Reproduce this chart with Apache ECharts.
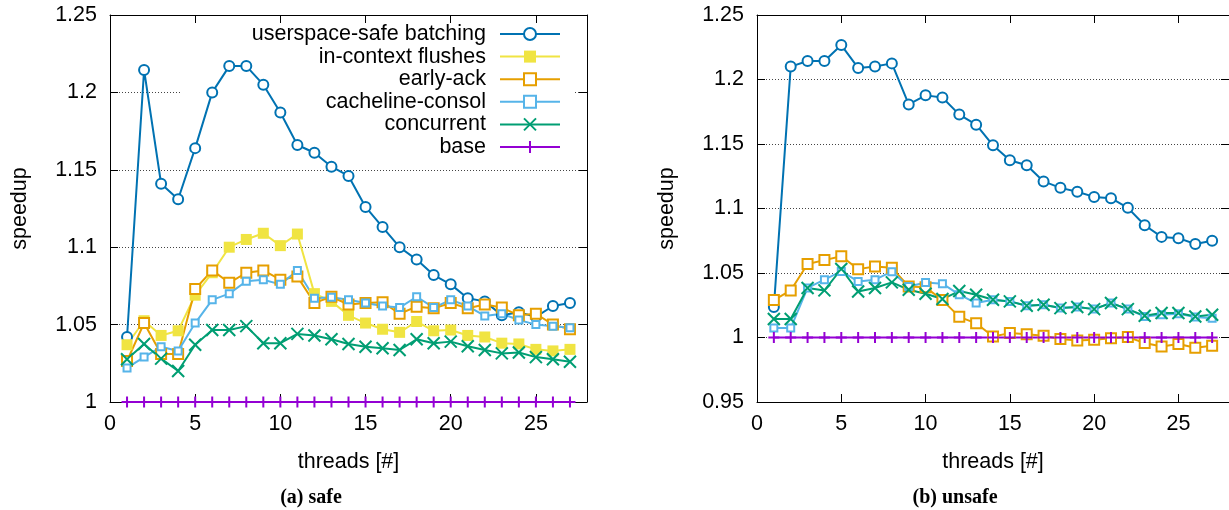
<!DOCTYPE html>
<html><head><meta charset="utf-8">
<script src="https://cdn.jsdelivr.net/npm/echarts@6/dist/echarts.min.js"></script>
<style>html,body{margin:0;padding:0;background:#fff}#c{width:1229px;height:510px}</style>
</head><body><div id="c"></div>
<script>
// ---------- data ----------
const threads = [1,2,3,4,5,6,7,8,9,10,11,12,13,14,15,16,17,18,19,20,21,22,23,24,25,26,27];
const seriesNames = ['userspace-safe batching','in-context flushes','early-ack','cacheline-consol','concurrent','base'];
const xTicks = [0,5,10,15,20,25];
const safeYTicks = [1,1.05,1.1,1.15,1.2,1.25];
const unsafeYTicks = [0.95,1,1.05,1.1,1.15,1.2,1.25];
const captions = ['(a) safe','(b) unsafe'];

// (a) safe
const safeBatching   = [1.042,1.2145,1.141,1.131,1.164,1.200,1.217,1.217,1.205,1.187,1.166,1.161,1.152,1.146,1.126,1.113,1.100,1.092,1.082,1.076,1.067,1.065,1.056,1.058,1.055,1.062,1.064];
const safeFlushes    = [1.037,1.0525,1.043,1.046,1.069,1.0835,1.100,1.105,1.109,1.101,1.1085,1.070,1.065,1.056,1.051,1.047,1.045,1.052,1.046,1.0465,1.043,1.042,1.038,1.0375,1.034,1.033,1.034];
const safeEarlyAck   = [1.0265,1.051,1.031,1.031,1.073,1.085,1.077,1.0835,1.085,1.079,1.081,1.064,1.068,1.063,1.064,1.0645,1.057,1.0616,1.0605,1.064,1.0605,1.063,1.061,1.056,1.057,1.050,1.047];
const safeConsol     = [1.022,1.029,1.0357,1.033,1.051,1.066,1.070,1.078,1.079,1.076,1.085,1.067,1.0676,1.066,1.064,1.062,1.061,1.068,1.061,1.066,1.062,1.0556,1.057,1.053,1.050,1.049,1.048];
const safeConcurrent = [1.0276,1.0375,1.028,1.020,1.037,1.0465,1.0465,1.049,1.038,1.038,1.044,1.043,1.0405,1.0375,1.0357,1.0347,1.0336,1.0405,1.038,1.039,1.036,1.0336,1.0314,1.032,1.029,1.0276,1.026];
const safeBase       = [1,1,1,1,1,1,1,1,1,1,1,1,1,1,1,1,1,1,1,1,1,1,1,1,1,1,1];

// (b) unsafe
const unsafeBatching   = [1.0236,1.210,1.2143,1.2143,1.2267,1.209,1.210,1.2125,1.1807,1.1877,1.186,1.1728,1.165,1.149,1.1374,1.1335,1.121,1.116,1.113,1.109,1.108,1.1005,1.087,1.078,1.077,1.0725,1.075];
const unsafeEarlyAck   = [1.029,1.0365,1.057,1.060,1.063,1.053,1.055,1.054,1.0396,1.039,1.029,1.016,1.011,1.0008,1.0034,1.0026,1.0013,0.9988,0.9977,0.9982,0.9995,1.0003,0.9957,0.993,0.995,0.992,0.9936];
const unsafeConsol     = [1.0073,1.0073,1.0384,1.0448,1.0512,1.0435,1.0448,1.051,1.0396,1.0427,1.0417,1.0332,1.0267,1.0293,1.028,1.0246,1.0254,1.0228,1.0236,1.022,1.0267,1.022,1.0163,1.0176,1.0184,1.0158,1.015];
const unsafeConcurrent = [1.0143,1.0143,1.0384,1.0365,1.0531,1.0357,1.0384,1.0427,1.037,1.0339,1.0298,1.036,1.0332,1.0293,1.028,1.0246,1.0254,1.0228,1.0236,1.022,1.0267,1.022,1.0168,1.019,1.019,1.0163,1.0176];
const unsafeBase       = [1,1,1,1,1,1,1,1,1,1,1,1,1,1,1,1,1,1,1,1,1,1,1,1,1,1,1];

// ---------- styling ----------
const FONT = 'Liberation Sans';
const FS = 21.5;
const X_PATH = 'path://M0,0L10,10M10,0L0,10';
const PLUS_PATH = 'path://M5,0L5,10M0,5L10,5';
const styles = {
  'userspace-safe batching': {color:'#0072b2', symbol:'emptyCircle', size:10, filled:false},
  'in-context flushes':      {color:'#f0e442', symbol:'rect', size:11, filled:true},
  'early-ack':               {color:'#e69f00', symbol:'emptyRect', size:10, filled:false},
  'cacheline-consol':        {color:'#56b4e9', symbol:'emptyRect', size:7, filled:false},
  'concurrent':              {color:'#009e73', symbol:X_PATH, size:12, filled:false},
  'base':                    {color:'#9400d3', symbol:PLUS_PATH, size:11, filled:false}
};

function mk(name, vals, gi) {
  const s = styles[name];
  return {
    name: name, type: 'line',
    xAxisIndex: gi*2, yAxisIndex: gi*2,
    data: threads.map((t,i)=>[t, vals[i]]),
    symbol: s.symbol, symbolSize: s.size, showAllSymbol: true,
    lineStyle: {color: s.color, width: 2},
    itemStyle: s.filled ? {color: s.color, borderWidth: 0}
                        : {color: s.color, borderColor: s.color, borderWidth: 2},
    emphasis: {disabled: true},
    animation: false
  };
}

const fmt = v => String(+v.toFixed(2));
const textCommon = {fontFamily: FONT, fontSize: FS, color: '#000'};
const black = {color:'#000', width:1};

const grids = [
  {left: 110, top: 15, width: 477, height: 387},
  {left: 757, top: 15, width: 477, height: 387}
];
const yRanges = [[1, 1.25], [0.95, 1.25]];

const xAxes = [], yAxes = [];
[0,1].forEach(gi => {
  xAxes.push({
    gridIndex: gi, type: 'value', position: 'bottom', min: 0, max: 28, interval: 5,
    axisLine: {show: true, onZero: false, lineStyle: black},
    axisTick: {show: true, inside: true, length: 8, lineStyle: black},
    axisLabel: Object.assign({show: true, margin: 11, showMaxLabel: false}, textCommon),
    splitLine: {show: false},
    name: 'threads [#]', nameLocation: 'middle', nameGap: 49, nameTextStyle: textCommon
  });
  xAxes.push({
    gridIndex: gi, type: 'value', position: 'top', min: 0, max: 28, interval: 5, z: 3,
    axisLine: {show: true, onZero: false, lineStyle: black},
    axisTick: {show: true, inside: true, length: 8, lineStyle: black},
    axisLabel: {show: false}, splitLine: {show: false}
  });
  yAxes.push({
    gridIndex: gi, type: 'value', position: 'left', min: yRanges[gi][0], max: yRanges[gi][1], interval: 0.05,
    axisLine: {show: true, onZero: false, lineStyle: black},
    axisTick: {show: true, inside: true, length: 8, lineStyle: black},
    axisLabel: Object.assign({show: true, margin: 13, formatter: fmt}, textCommon),
    splitLine: {show: true, lineStyle: {type: [1, 2], color: '#444', width: 1}},
    name: 'speedup', nameLocation: 'middle', nameGap: 79, nameTextStyle: textCommon
  });
  yAxes.push({
    gridIndex: gi, type: 'value', position: 'right', min: yRanges[gi][0], max: yRanges[gi][1], interval: 0.05, z: 3,
    axisLine: {show: true, onZero: false, lineStyle: black},
    axisTick: {show: true, inside: true, length: 8, lineStyle: black},
    axisLabel: {show: false}, splitLine: {show: false}
  });
});

const series = [
  mk(seriesNames[0], safeBatching, 0),
  mk(seriesNames[1], safeFlushes, 0),
  mk(seriesNames[2], safeEarlyAck, 0),
  mk(seriesNames[3], safeConsol, 0),
  mk(seriesNames[4], safeConcurrent, 0),
  mk(seriesNames[5], safeBase, 0),
  mk(seriesNames[0], unsafeBatching, 1),
  mk(seriesNames[2], unsafeEarlyAck, 1),
  mk(seriesNames[3], unsafeConsol, 1),
  mk(seriesNames[4], unsafeConcurrent, 1),
  mk(seriesNames[5], unsafeBase, 1)
];

const chart = echarts.init(document.getElementById('c'), null, {renderer: 'canvas'});
chart.setOption({
  animation: false,
  backgroundColor: '#fff',
  grid: grids,
  xAxis: xAxes,
  yAxis: yAxes,
  legend: {
    data: seriesNames, orient: 'vertical', align: 'right',
    right: 668, top: 23, padding: 0,
    itemWidth: 60, itemHeight: 15, itemGap: 0.6,
    selectedMode: false,
    textStyle: {fontFamily: FONT, fontSize: FS, color: '#000', lineHeight: 15, padding: [0, 9, 0, 0]}
  },
  graphic: [
    {type: 'rect', z: 1, silent: true, shape: {x: 182, y: 16, width: 392, height: 142}, style: {fill: '#fff'}},
    {type: 'text', x: 311, y: 498, silent: true,
     style: {text: captions[0], font: 'bold 20px "Liberation Serif"', fill: '#000', align: 'center', verticalAlign: 'middle', textAlign: 'center', textVerticalAlign: 'middle'}},
    {type: 'text', x: 955, y: 498, silent: true,
     style: {text: captions[1], font: 'bold 20px "Liberation Serif"', fill: '#000', align: 'center', verticalAlign: 'middle', textAlign: 'center', textVerticalAlign: 'middle'}}
  ],
  series: series
});
</script></body></html>
